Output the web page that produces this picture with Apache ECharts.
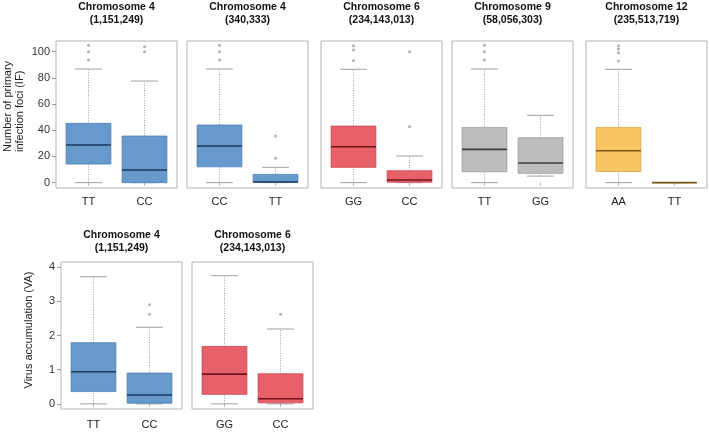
<!DOCTYPE html>
<html><head><meta charset="utf-8">
<script src="https://cdn.jsdelivr.net/npm/echarts@6/dist/echarts.min.js"></script>
<style>html,body{margin:0;padding:0;background:#fff}#c{width:709px;height:432px}</style>
</head><body><div id="c"></div>
<script>
// ---- Data ----
const panelTitles = [
  'Chromosome 4\n(1,151,249)',
  'Chromosome 4\n(340,333)',
  'Chromosome 6\n(234,143,013)',
  'Chromosome 9\n(58,056,303)',
  'Chromosome 12\n(235,513,719)',
  'Chromosome 4\n(1,151,249)',
  'Chromosome 6\n(234,143,013)'
];
const panelCategories = [
  ['TT', 'CC'], ['CC', 'TT'], ['GG', 'CC'], ['TT', 'GG'], ['AA', 'TT'],
  ['TT', 'CC'], ['GG', 'CC']
];
// box stats per category: [low whisker, Q1, median, Q3, high whisker]
const statsIF_chr4a  = [[0, 14.2, 28.7, 45.3, 86.8], [0, 0, 9.6, 35.6, 77.6]];
const statsIF_chr4b  = [[0, 12.1, 28.0, 44.0, 86.8], [0, 0.3, 0.5, 6.3, 11.7]];
const statsIF_chr6   = [[0, 11.7, 27.4, 43.2, 86.6], [0, 0.3, 2.0, 9.1, 20.3]];
const statsIF_chr9   = [[0, 8.3, 25.4, 42.2, 86.8], [5.0, 7.1, 15.0, 34.3, 51.4]];
const statsIF_chr12  = [[0, 8.6, 24.4, 42.2, 86.6], [0, 0, 0, 0, 0]];
const statsVA_chr4   = [[0, 0.36, 0.94, 1.79, 3.72], [0, 0.02, 0.26, 0.90, 2.24]];
const statsVA_chr6   = [[0, 0.28, 0.87, 1.68, 3.75], [0, 0.03, 0.15, 0.88, 2.19]];
// outliers per category
const outIF_chr4a  = [[93.7, 100, 105], [100, 103.8]];
const outIF_chr4b  = [[93.7, 100, 105], [18.6, 35.6]];
const outIF_chr6   = [[93.1, 101.3, 104.6], [42.7, 100]];
const outIF_chr9   = [[93.7, 100, 105], []];
const outIF_chr12  = [[92.9, 99.3, 102, 104.6], []];
const outVA_chr4   = [[], [2.62, 2.9]];
const outVA_chr6   = [[], [2.62]];
const yTicksIF = [0, 20, 40, 60, 80, 100];
const yTicksVA = [0, 1, 2, 3, 4];
const yNameIF = ['Number of primary', 'infection foci (IF)'];
const yNameVA = 'Virus accumulation (VA)';

const panelStats = [statsIF_chr4a, statsIF_chr4b, statsIF_chr6, statsIF_chr9, statsIF_chr12, statsVA_chr4, statsVA_chr6];
const panelOut = [outIF_chr4a, outIF_chr4b, outIF_chr6, outIF_chr9, outIF_chr12, outVA_chr4, outVA_chr6];

// ---- Styles / layout ----
const FONT = '"Liberation Sans", Arial, Helvetica, sans-serif';
const BLUE = {fill: '#6699cc', border: '#4f80b5', median: '#1b3a63'};
const RED = {fill: '#e8606a', border: '#c8464f', median: '#6a1419'};
const GRAY = {fill: '#bdbdbd', border: '#9a9a9a', median: '#3a3a3a'};
const YELLOW = {fill: '#f7c562', border: '#d7a340', median: '#7a5718'};
const panelStyle = [BLUE, BLUE, RED, GRAY, YELLOW, BLUE, RED];
const panelLayout = [
  {left: 56, top: 41}, {left: 187, top: 41}, {left: 321, top: 41}, {left: 452, top: 41}, {left: 586, top: 41},
  {left: 61, top: 262}, {left: 192, top: 262}
];
const PW = 121, PH = 147;

function makeRender(st) {
  return function (params, api) {
    const x = api.value(0);
    const low = api.value(1), q1 = api.value(2), med = api.value(3), q3 = api.value(4), high = api.value(5);
    const pL = api.coord([x, low]), pQ1 = api.coord([x, q1]), pM = api.coord([x, med]);
    const pQ3 = api.coord([x, q3]), pH = api.coord([x, high]);
    const bl = api.coord([x - 0.4, q3]), br = api.coord([x + 0.4, q1]);
    const cl = api.coord([x - 0.24, low]), cr = api.coord([x + 0.24, low]);
    const hl = api.coord([x - 0.24, high]), hr = api.coord([x + 0.24, high]);
    const whisk = {stroke: '#a0a0a0', lineWidth: 1, lineDash: [1, 1.5]};
    const cap = {stroke: '#a0a0a0', lineWidth: 1};
    return {type: 'group', children: [
      {type: 'line', shape: {x1: pL[0], y1: pL[1], x2: pQ1[0], y2: pQ1[1]}, style: whisk},
      {type: 'line', shape: {x1: pQ3[0], y1: pQ3[1], x2: pH[0], y2: pH[1]}, style: whisk},
      {type: 'line', shape: {x1: cl[0], y1: cl[1], x2: cr[0], y2: cr[1]}, style: cap},
      {type: 'line', shape: {x1: hl[0], y1: hl[1], x2: hr[0], y2: hr[1]}, style: cap},
      {type: 'rect', shape: {x: bl[0], y: bl[1], width: br[0] - bl[0], height: Math.max(br[1] - bl[1], 0)},
        style: {fill: st.fill, stroke: st.border, lineWidth: 0.8}},
      {type: 'line', shape: {x1: bl[0], y1: pM[1], x2: br[0], y2: pM[1]}, style: {stroke: st.median, lineWidth: 1.6}}
    ]};
  };
}

const grids = [], xAxes = [], yAxes = [], series = [], graphics = [];
for (let i = 0; i < 7; i++) {
  const lay = panelLayout[i];
  const isIF = i < 5;
  const showY = (i === 0 || i === 5);
  grids.push({left: lay.left, top: lay.top, width: PW, height: PH, show: true,
    borderColor: '#b3b3b3', borderWidth: 1, backgroundColor: 'transparent', containLabel: false});
  const cats = panelCategories[i];
  xAxes.push({type: 'value', gridIndex: i, min: 0.42, max: 2.58,
    axisLine: {show: false}, splitLine: {show: false},
    axisTick: {show: true, length: 3, customValues: [1, 2], lineStyle: {color: '#b3b3b3'}},
    axisLabel: {show: true, customValues: [1, 2], margin: isIF ? 8 : 10, fontSize: 11, color: '#222', fontFamily: FONT,
      formatter: v => cats[Math.round(v) - 1]}
  });
  const ticks = isIF ? yTicksIF : yTicksVA;
  yAxes.push({type: 'value', gridIndex: i,
    min: isIF ? -4.1 : -0.15, max: isIF ? 108.2 : 4.15,
    axisLine: {show: false}, splitLine: {show: false},
    axisTick: {show: showY, length: 4, customValues: ticks, lineStyle: {color: '#999'}},
    axisLabel: {show: showY, customValues: ticks, margin: 6, fontSize: 11, color: '#333', fontFamily: FONT}
  });
  const boxData = panelStats[i].map((s, k) => [k + 1].concat(s));
  series.push({type: 'custom', xAxisIndex: i, yAxisIndex: i, renderItem: makeRender(panelStyle[i]),
    encode: {x: 0, y: [1, 2, 3, 4, 5]}, data: boxData, silent: true, z: 2});
  const outData = [];
  panelOut[i].forEach((arr, k) => arr.forEach(v => outData.push([k + 1, v])));
  series.push({type: 'scatter', xAxisIndex: i, yAxisIndex: i, data: outData, symbol: 'circle', symbolSize: 3,
    itemStyle: {color: '#9e9e9e'}, silent: true, z: 3});
  graphics.push({type: 'text', x: lay.left + PW / 2, y: lay.top - (isIF ? 40 : 33),
    style: {text: panelTitles[i], align: 'center', verticalAlign: 'top', lineHeight: 13,
      font: 'bold 10.5px ' + FONT, fill: '#111'}});
}
graphics.push({type: 'text', x: 7.5, y: 152, rotation: Math.PI / 2,
  style: {text: yNameIF[0], align: 'left', verticalAlign: 'middle', font: '11px ' + FONT, fill: '#222'}});
graphics.push({type: 'text', x: 19.5, y: 152, rotation: Math.PI / 2,
  style: {text: yNameIF[1], align: 'left', verticalAlign: 'middle', font: '11px ' + FONT, fill: '#222'}});
graphics.push({type: 'text', x: 29, y: 330, rotation: Math.PI / 2,
  style: {text: yNameVA, align: 'center', verticalAlign: 'middle', font: '11px ' + FONT, fill: '#222'}});

const chart = echarts.init(document.getElementById('c'), null, {renderer: 'canvas'});
chart.setOption({
  animation: false,
  backgroundColor: '#fff',
  grid: grids, xAxis: xAxes, yAxis: yAxes, series: series, graphic: graphics
});
</script></body></html>
